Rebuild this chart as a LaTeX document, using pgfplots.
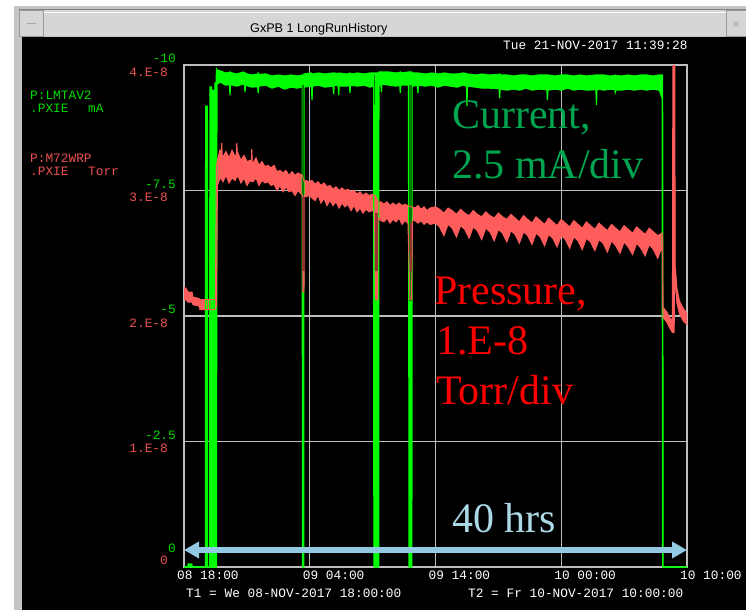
\documentclass[border=0pt]{standalone}
\usepackage{fontspec}
\usepackage{pgfplots}
\usepackage{pgfplotstable}
\pgfplotsset{compat=1.18}
\usepgfplotslibrary{fillbetween}
\usetikzlibrary{arrows.meta}

\newfontfamily\monofont{Liberation Mono}
\newfontfamily\serifanno{Liberation Serif}
\newfontfamily\titlefont{Liberation Sans}
\newcommand\lab{\fontsize{12.8}{14}\selectfont\monofont}
\newcommand\anno{\fontsize{42}{50}\selectfont\serifanno}

\definecolor{cgreen}{RGB}{0,255,0}
\definecolor{cgreendark}{RGB}{0,125,0}
\definecolor{pred}{RGB}{255,92,92}
\definecolor{preddark}{RGB}{150,50,50}
\definecolor{labgreen}{RGB}{0,220,0}
\definecolor{labred}{RGB}{235,80,80}
\definecolor{gridgrey}{RGB}{190,190,190}
\definecolor{annogreen}{RGB}{0,165,80}
\definecolor{annoblue}{RGB}{173,216,230}
\definecolor{arrowblue}{RGB}{145,202,226}
\definecolor{chrome}{RGB}{196,196,196}
\definecolor{barfill}{RGB}{214,214,214}

% a bottom layer for the window chrome, below everything pgfplots draws
\pgfplotsset{
  layers/chromed/.define layer set={chrome,axis background,axis grid,axis ticks,axis lines,
    axis tick labels,pre main,main,axis descriptions,axis foreground}{/pgfplots/layers/standard},
}

% beam current, mA (h = hours after 08-NOV 18:00); top/bot = band edges
\pgfplotstableread{
h top bot
0.00 0 0
0.30 0 0
0.33 -0.06 0
0.62 -0.06 0
0.65 0 0
1.70 0 0
1.72 -9.18 0
1.86 -9.18 0
1.88 0 0
2.04 0 0
2.06 -9.56 0
2.18 -9.56 0
2.20 0 0
2.26 0 0
2.28 -9.50 0
2.38 -9.50 0
2.40 0 0
2.44 0 0
2.46 -9.64 0
2.56 -9.64 0
2.58 -9.92 0
2.62 -9.90 -9.62
2.90 -9.88 -9.66
3.30 -9.84 -9.60
3.62 -9.85 -9.61
3.66 -9.86 -9.40
3.70 -9.85 -9.61
4.20 -9.82 -9.58
4.70 -9.86 -9.62
4.81 -9.85 -9.61
4.85 -9.84 -9.46
4.89 -9.83 -9.60
5.40 -9.80 -9.56
5.86 -9.82 -9.57
5.90 -9.84 -9.44
5.94 -9.81 -9.58
6.50 -9.82 -9.60
7.00 -9.78 -9.54
7.50 -9.80 -9.58
8.00 -9.78 -9.52
8.50 -9.80 -9.56
9.00 -9.78 -9.54
9.40 -9.80 -9.56
9.42 -9.80 0
9.52 -9.80 0
9.54 -9.82 -9.56
10.14 -9.84 -9.58
10.18 -9.82 -9.30
10.22 -9.82 -9.58
10.70 -9.84 -9.60
11.20 -9.82 -9.56
11.86 -9.84 -9.58
11.90 -9.82 -9.42
11.94 -9.84 -9.60
12.26 -9.83 -9.59
12.30 -9.82 -9.40
12.34 -9.84 -9.58
12.90 -9.82 -9.58
13.16 -9.83 -9.59
13.20 -9.84 -9.44
13.24 -9.82 -9.60
13.80 -9.84 -9.58
14.30 -9.82 -9.60
14.80 -9.84 -9.56
15.08 -9.84 -9.58
15.10 -9.84 0
15.48 -9.84 0
15.50 -9.86 -9.60
15.66 -9.86 -9.61
15.70 -9.86 -9.46
15.74 -9.86 -9.62
16.30 -9.86 -9.60
16.80 -9.84 -9.58
17.16 -9.85 -9.59
17.20 -9.86 -9.44
17.24 -9.84 -9.60
17.85 -9.86 -9.60
17.90 -9.86 0
18.12 -9.86 0
18.14 -9.84 -9.58
18.56 -9.84 -9.59
18.60 -9.84 -9.44
18.64 -9.84 -9.60
19.20 -9.82 -9.58
19.70 -9.84 -9.60
20.20 -9.82 -9.56
20.70 -9.84 -9.60
21.20 -9.82 -9.58
21.70 -9.82 -9.56
22.20 -9.84 -9.60
22.46 -9.83 -9.58
22.50 -9.82 -9.18
22.54 -9.82 -9.58
23.20 -9.80 -9.56
23.70 -9.82 -9.54
24.20 -9.80 -9.54
25.06 -9.81 -9.53
25.10 -9.82 -9.34
25.14 -9.80 -9.52
25.70 -9.80 -9.50
26.20 -9.78 -9.52
26.70 -9.80 -9.50
27.20 -9.80 -9.54
27.70 -9.78 -9.50
28.20 -9.80 -9.52
28.86 -9.80 -9.51
28.90 -9.80 -9.30
28.94 -9.80 -9.50
29.50 -9.78 -9.52
30.00 -9.80 -9.50
30.50 -9.80 -9.54
31.00 -9.78 -9.50
31.50 -9.80 -9.52
32.00 -9.78 -9.50
32.76 -9.80 -9.51
32.80 -9.80 -9.20
32.84 -9.80 -9.52
33.40 -9.80 -9.50
33.90 -9.78 -9.52
34.26 -9.79 -9.51
34.30 -9.80 -9.46
34.34 -9.79 -9.50
34.80 -9.78 -9.50
35.30 -9.80 -9.52
35.80 -9.78 -9.50
36.30 -9.80 -9.52
36.80 -9.80 -9.50
37.30 -9.78 -9.52
37.80 -9.80 -9.50
38.02 -9.80 -9.34
38.06 -9.80 0
38.10 0 0
40.00 0 0
}\curdata

% vacuum pressure, 1E-8 Torr; hi/lo = band edges
\pgfplotstableread{
h hi lo
0.00 2.23 2.13
0.16 2.22 2.13
0.32 2.19 2.11
0.64 2.19 2.11
0.72 2.15 2.09
1.19 2.14 2.08
1.27 2.13 2.05
2.50 2.13 2.05
2.58 3.20 2.09
2.66 3.24 3.04
2.86 3.32 3.10
2.96 3.29 3.09
3.00 3.38 3.09
3.04 3.28 3.08
3.10 3.27 3.07
3.34 3.31 3.12
3.58 3.26 3.06
3.82 3.32 3.10
4.06 3.27 3.08
4.16 3.29 3.10
4.20 3.38 3.10
4.24 3.29 3.11
4.29 3.30 3.12
4.53 3.24 3.06
4.77 3.28 3.10
5.01 3.23 3.04
5.25 3.24 3.08
5.35 3.23 3.07
5.39 3.33 3.07
5.43 3.22 3.07
5.49 3.22 3.07
5.73 3.26 3.10
5.96 3.20 3.04
6.20 3.23 3.08
6.44 3.19 3.06
6.68 3.20 3.07
6.92 3.18 3.04
7.16 3.20 3.05
7.40 3.15 3.00
7.63 3.16 3.04
7.87 3.14 2.99
8.11 3.16 3.03
8.35 3.12 2.99
8.59 3.15 3.00
8.83 3.12 2.96
9.07 3.14 3.00
9.42 3.12 2.96
9.46 3.10 2.19
9.54 3.08 2.19
9.58 3.07 2.96
9.70 3.08 2.95
9.94 3.07 2.96
10.18 3.08 2.94
10.42 3.05 2.92
10.66 3.07 2.96
10.89 3.04 2.90
11.13 3.06 2.94
11.37 3.03 2.88
11.61 3.04 2.92
11.85 3.01 2.88
12.09 3.03 2.91
12.33 3.00 2.86
12.56 3.02 2.90
12.80 3.00 2.87
13.04 3.01 2.89
13.28 2.99 2.84
13.52 3.00 2.88
13.76 2.97 2.83
14.00 2.99 2.86
14.23 2.96 2.82
14.47 2.98 2.85
14.71 2.96 2.83
14.95 2.97 2.84
15.15 2.96 2.83
15.23 2.96 2.13
15.39 2.92 2.13
15.43 2.91 2.78
15.67 2.91 2.76
15.90 2.89 2.75
16.14 2.91 2.78
16.38 2.88 2.74
16.62 2.90 2.77
16.86 2.88 2.75
17.10 2.90 2.78
17.34 2.88 2.73
17.57 2.89 2.76
17.81 2.88 2.74
17.97 2.87 2.13
18.09 2.87 2.13
18.17 2.87 2.76
18.37 2.86 2.76
18.61 2.88 2.74
18.85 2.85 2.76
19.09 2.87 2.73
19.32 2.84 2.75
19.56 2.86 2.73
20.00 2.87 2.74
20.33 2.85 2.71
20.67 2.82 2.64
21.00 2.86 2.73
21.33 2.84 2.70
21.67 2.81 2.63
22.00 2.85 2.72
22.33 2.82 2.69
22.67 2.80 2.62
23.00 2.84 2.71
23.33 2.81 2.68
23.67 2.79 2.61
24.00 2.83 2.70
24.33 2.80 2.67
24.67 2.78 2.60
25.00 2.82 2.69
25.33 2.79 2.66
25.67 2.77 2.59
26.00 2.81 2.68
26.33 2.78 2.65
26.67 2.75 2.58
27.00 2.80 2.67
27.33 2.77 2.64
27.67 2.74 2.57
28.00 2.79 2.66
28.33 2.76 2.63
28.67 2.73 2.56
29.00 2.78 2.65
29.33 2.75 2.62
29.67 2.72 2.55
30.00 2.77 2.64
30.33 2.74 2.61
30.67 2.71 2.54
31.00 2.76 2.63
31.33 2.73 2.60
31.67 2.70 2.53
32.00 2.75 2.62
32.33 2.72 2.59
32.67 2.69 2.52
33.00 2.74 2.61
33.33 2.71 2.58
33.67 2.68 2.51
34.00 2.73 2.60
34.33 2.70 2.56
34.67 2.67 2.50
35.00 2.72 2.59
35.33 2.69 2.55
35.67 2.66 2.49
36.00 2.71 2.58
36.33 2.68 2.54
36.67 2.65 2.48
37.00 2.70 2.57
37.33 2.67 2.53
37.67 2.64 2.46
38.00 2.66 2.55
38.05 2.64 2.50
38.08 2.07 1.99
38.41 2.03 1.95
38.65 1.98 1.90
38.84 1.97 1.87
38.88 4.30 1.87
38.98 4.30 1.87
39.02 4.30 2.35
39.06 2.40 2.30
39.20 2.22 2.10
39.40 2.12 2.02
39.70 2.06 1.96
40.00 2.02 1.93
}\presdata

\begin{document}
\begin{tikzpicture}
\pgfplotsset{set layers=chromed}
\begin{pgfonlayer}{chrome}
% window chrome (1pt = 1px of the screenshot, origin top left)
\fill[white] (0,0) rectangle (746pt,-610pt);
\fill[chrome] (14pt,-6pt) rectangle (746pt,-610pt);
\fill[barfill] (19pt,-10pt) rectangle (746pt,-36pt);
\draw[gray, line width=1pt] (19pt,-10pt) -- (746pt,-10pt);
\draw[white, line width=0.8pt] (44pt,-12pt) -- (726pt,-12pt);
\draw[gray!80, line width=0.8pt] (19.5pt,-10pt) rectangle (43.5pt,-36pt);
\draw[gray!70, line width=1pt] (27pt,-24pt) -- (36pt,-24pt);
\draw[gray!80, line width=0.8pt] (726.5pt,-10pt) rectangle (746pt,-36pt);
\draw[gray!70, line width=0.8pt] (734pt,-22pt) rectangle (737pt,-25pt);
\fill[black] (22pt,-37pt) rectangle (746pt,-610pt);
\end{pgfonlayer}

\begin{axis}[
  at={(184pt,-567pt)}, anchor=south west,
  scale only axis, width=503pt, height=502pt,
  xmin=0, xmax=40, ymin=-10, ymax=0, y dir=reverse,
  xtick={0,10,20,30,40},
  xticklabels={08 18:00,09 04:00,09 14:00,10 00:00,10 10:00},
  ytick={-10,-7.5,-5,-2.5,0},
  yticklabels={-10,-7.5,-5,-2.5,\raisebox{12pt}{0}},
  grid=major, grid style={gridgrey, line width=1.2pt},
  axis line style={gridgrey, line width=1.5pt},
  major tick length=0pt,
  xticklabel style={font=\lab, text=white, anchor=base west, inner sep=0pt, xshift=-7pt, yshift=-12.5pt},
  yticklabel style={font=\lab, text=labgreen, anchor=base east, inner sep=0pt, xshift=-8pt, yshift=2.5pt},
]
\addplot[name path=ctop, cgreen, line width=1.2pt] table[x=h, y=top] {\curdata};
\addplot[name path=cbot, cgreen, line width=1.2pt] table[x=h, y=bot] {\curdata};
\addplot[cgreen] fill between[of=ctop and cbot];
% dim upper parts of two beam-off excursions
\addplot[cgreendark, line width=2.6pt] coordinates {(9.47,-9.6) (9.47,-5.5)};
\addplot[cgreendark, line width=2.6pt] coordinates {(18.01,-9.6) (18.01,-5.3)};
\addplot[cgreendark, line width=1.5pt] coordinates {(15.16,-9.8) (15.16,-9.2)};
\end{axis}

\begin{axis}[
  at={(184pt,-567pt)}, anchor=south west,
  scale only axis, width=503pt, height=502pt,
  xmin=0, xmax=40, ymin=0, ymax=4,
  axis line style={draw=none},
  xtick=\empty,
  ytick={0,1,2,3,4},
  yticklabels={\raisebox{14pt}{0},1.E-8,2.E-8,3.E-8,4.E-8},
  major tick length=0pt,
  yticklabel style={font=\lab, text=labred, anchor=base east, inner sep=0pt, xshift=-16pt, yshift=-11pt},
]
\addplot[name path=ptop, pred, line width=1pt] table[x=h, y=hi] {\presdata};
\addplot[name path=pbot, pred, line width=1pt] table[x=h, y=lo] {\presdata};
\addplot[pred] fill between[of=ptop and pbot];
\addplot[preddark, line width=2.2pt] coordinates {(9.50,2.95) (9.50,2.36)};
\addplot[preddark, line width=2.2pt] coordinates {(15.31,2.82) (15.31,2.36)};
\addplot[preddark, line width=2.2pt] coordinates {(18.03,2.74) (18.03,2.36)};
\end{axis}

% header and signal names
\node[anchor=base west, inner sep=0pt, font=\fontsize{12.6}{14}\selectfont\titlefont, text=black] at (250pt,-32.5pt) {GxPB 1 LongRunHistory};
\node[anchor=base west, inner sep=0pt, font=\lab, text=white] at (503pt,-49.5pt) {Tue 21-NOV-2017 11:39:28};
\node[anchor=base west, inner sep=0pt, font=\lab, text=labgreen] at (30pt,-99.5pt) {P:LMTAV2};
\node[anchor=base west, inner sep=0pt, font=\lab, text=labgreen] at (30pt,-112.5pt) {.PXIE};
\node[anchor=base west, inner sep=0pt, font=\lab, text=labgreen] at (88pt,-112.5pt) {mA};
\node[anchor=base west, inner sep=0pt, font=\lab, text=labred] at (30pt,-162.5pt) {P:M72WRP};
\node[anchor=base west, inner sep=0pt, font=\lab, text=labred] at (30pt,-175.5pt) {.PXIE};
\node[anchor=base west, inner sep=0pt, font=\lab, text=labred] at (88pt,-175.5pt) {Torr};
\node[anchor=base west, inner sep=0pt, font=\lab, text=white] at (186pt,-597.5pt) {T1 = We 08-NOV-2017 18:00:00};
\node[anchor=base west, inner sep=0pt, font=\lab, text=white] at (468pt,-597.5pt) {T2 = Fr 10-NOV-2017 10:00:00};

% slide annotations
\node[anchor=base west, inner sep=0pt, font=\anno, text=annogreen] at (452pt,-128pt) {Current,};
\node[anchor=base west, inner sep=0pt, font=\anno, text=annogreen] at (452pt,-178pt) {2.5 mA/div};
\node[anchor=base west, inner sep=0pt, font=\anno, text=red] at (434pt,-304pt) {Pressure,};
\node[anchor=base west, inner sep=0pt, font=\anno, text=red] at (436pt,-354pt) {1.E-8};
\node[anchor=base west, inner sep=0pt, font=\anno, text=red] at (436pt,-404pt) {Torr/div};
\node[anchor=base west, inner sep=0pt, font=\anno, text=annoblue] at (452pt,-532pt) {40 hrs};
\draw[arrowblue, line width=6pt, {Triangle[width=16pt,length=15pt]}-{Triangle[width=16pt,length=15pt]}] (184pt,-550pt) -- (687pt,-550pt);

\pgfresetboundingbox
\useasboundingbox (0,0) rectangle (746pt,-610pt);
\end{tikzpicture}
\end{document}
